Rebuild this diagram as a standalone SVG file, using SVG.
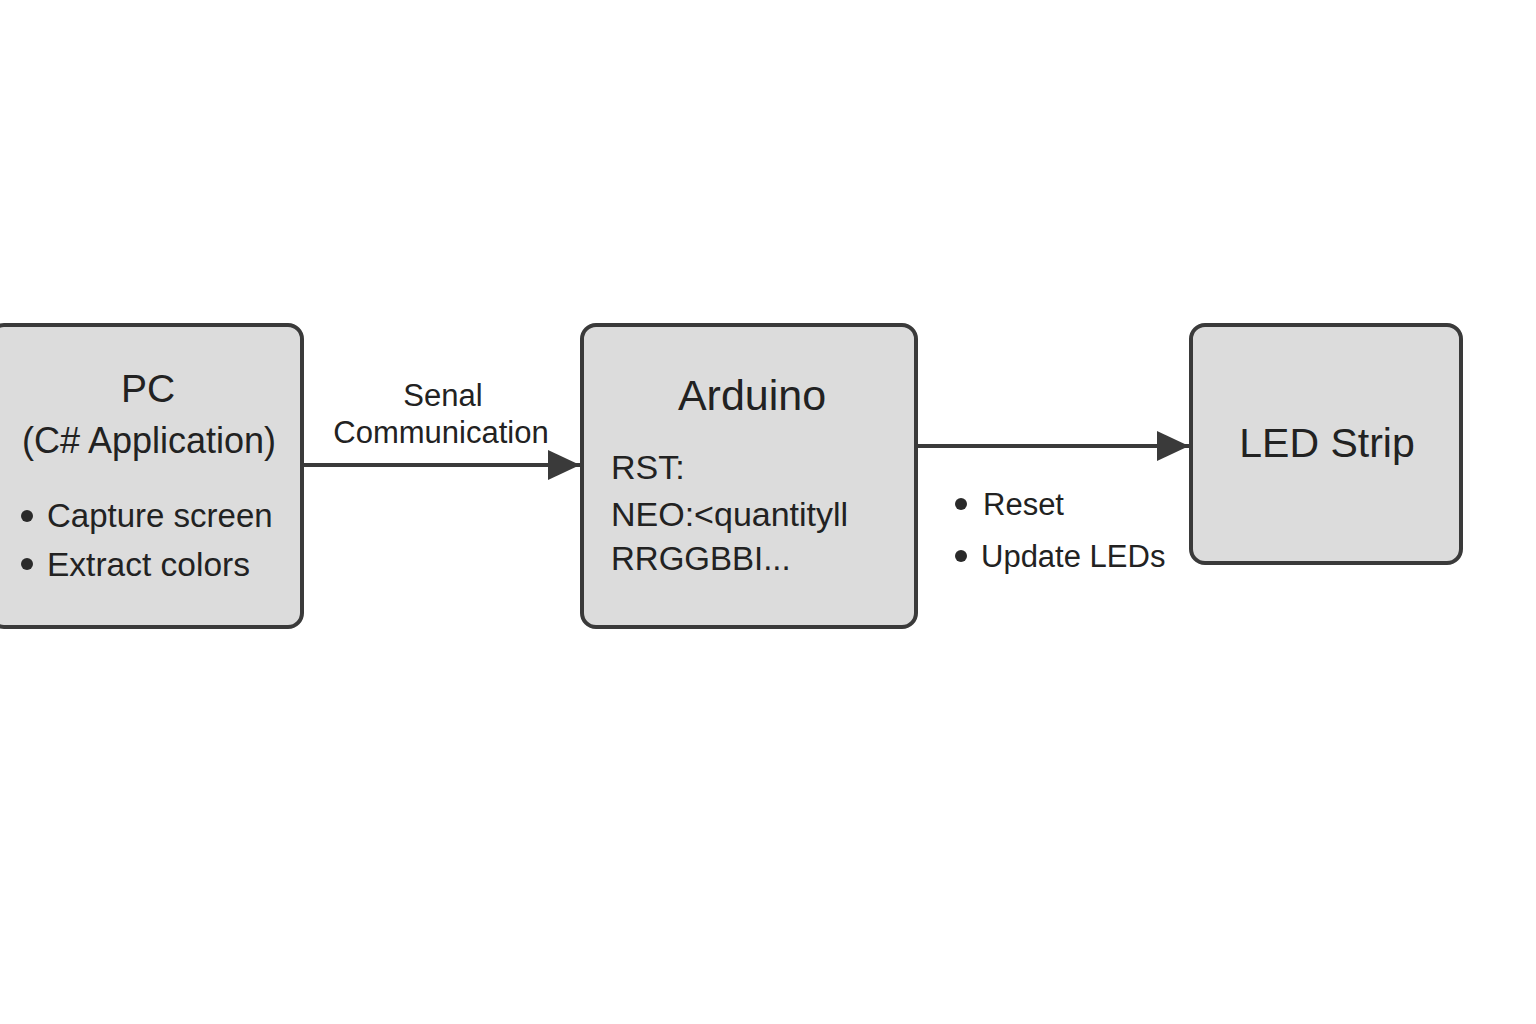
<svg xmlns="http://www.w3.org/2000/svg" width="1536" height="1024" viewBox="0 0 1536 1024">
<defs>
<style>
.box{fill:#dcdcdc;stroke:#3a3a3a;stroke-width:4}
.t{font-family:"Liberation Sans",Arial,sans-serif;fill:#222}
.line{stroke:#3a3a3a;stroke-width:4;fill:none}
.dot{fill:#2a2a2a}
</style>
<marker id="arr" markerUnits="userSpaceOnUse" markerWidth="34" markerHeight="34" viewBox="0 0 34 34" refX="32" refY="17" orient="auto">
<path d="M0,2 L32,17 L0,32 Z" fill="#3a3a3a"/>
</marker>
</defs>
<rect width="1536" height="1024" fill="#ffffff"/>
<g id="connectors">
<line class="line" x1="303" y1="465" x2="580" y2="465" marker-end="url(#arr)"/>
<line class="line" x1="916" y1="446" x2="1189" y2="446" marker-end="url(#arr)"/>
</g>
<g id="label-serial">
<text class="t" x="443" y="406" font-size="31" text-anchor="middle">Senal</text>
<text class="t" x="441" y="443" font-size="31" text-anchor="middle">Communication</text>
</g>
<g id="node-pc">
<rect class="box" x="-10" y="325" width="312" height="302" rx="14"/>
<text class="t" x="148" y="402" font-size="39" text-anchor="middle">PC</text>
<text class="t" x="149" y="453" font-size="36" text-anchor="middle">(C# Application)</text>
<circle class="dot" cx="27" cy="516" r="6"/>
<text class="t" x="47" y="527" font-size="33">Capture screen</text>
<circle class="dot" cx="27" cy="564" r="6"/>
<text class="t" x="47" y="576" font-size="33.5">Extract colors</text>
</g>
<g id="node-arduino">
<rect class="box" x="582" y="325" width="334" height="302" rx="14"/>
<text class="t" x="752" y="410" font-size="43" text-anchor="middle">Arduino</text>
<text class="t" x="611" y="479" font-size="34">RST:</text>
<text class="t" x="611" y="526" font-size="34">NEO:&lt;quantityll</text>
<text class="t" x="611" y="570" font-size="33">RRGGBBI...</text>
</g>
<g id="label-actions">
<circle class="dot" cx="961" cy="504" r="6"/>
<text class="t" x="983" y="515" font-size="31">Reset</text>
<circle class="dot" cx="961" cy="556" r="6"/>
<text class="t" x="981" y="567" font-size="31">Update LEDs</text>
</g>
<g id="node-led">
<rect class="box" x="1191" y="325" width="270" height="238" rx="14"/>
<text class="t" x="1327" y="457" font-size="41" text-anchor="middle">LED Strip</text>
</g>
</svg>
